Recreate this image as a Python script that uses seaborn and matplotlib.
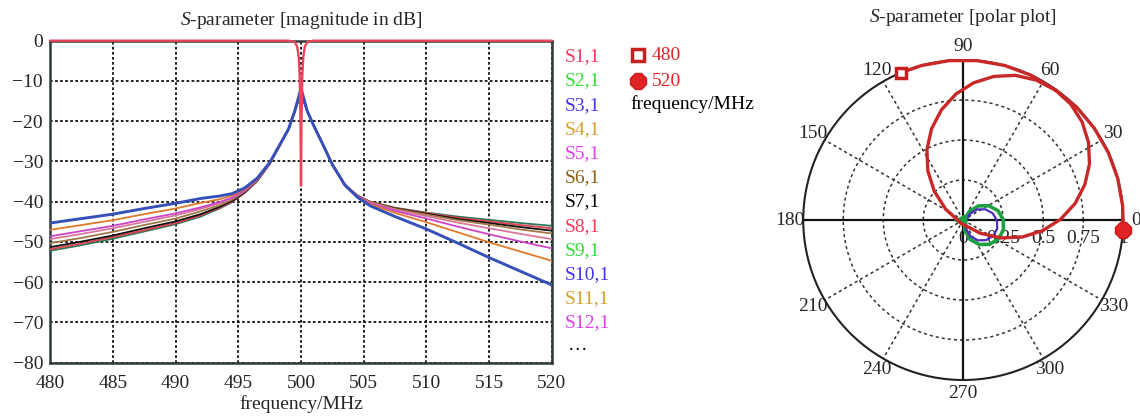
import numpy as np
import pandas as pd
import matplotlib
matplotlib.use("Agg")
import matplotlib.pyplot as plt
from matplotlib.lines import Line2D
import seaborn as sns

# ---- magnitude data (dB) ----
freq = [480, 482.5, 485, 487.5, 490, 492, 493.5, 494.5, 495.5, 496.5, 497.5, 498.3,
        499, 499.5, 500, 500.5, 501,
        501.7, 502.5, 503.5, 504.5, 505.5, 507.5, 510, 512.5, 515, 517.5, 520]

s_green = [-52.2, -50.8, -49.2, -47.4, -45.6, -43.7, -41.7, -40.1, -37.8, -34.9, -30.6, -26.1,
           -22.0, -17.5, -13.0, -17.5, -21.0,
           -25.5, -30.8, -35.8, -38.5, -40.0, -41.5, -42.7, -43.7, -44.5, -45.3, -46.0]
s_red = [-51.8, -50.4, -48.8, -47.1, -45.3, -43.4, -41.5, -40.0, -37.8, -34.9, -30.6, -26.1,
         -22.0, -17.5, -12.9, -17.5, -21.0,
         -25.5, -30.8, -35.8, -38.5, -40.0, -41.6, -42.8, -44.0, -44.9, -45.8, -46.6]
s_black = [-51.3, -49.9, -48.4, -46.6, -44.9, -43.1, -41.3, -39.8, -37.7, -34.8, -30.6, -26.0,
           -22.0, -17.5, -13.2, -17.5, -21.0,
           -25.5, -30.8, -35.8, -38.5, -40.1, -41.7, -43.0, -44.3, -45.3, -46.3, -47.2]
s_brown = [-50.3, -49.0, -47.5, -45.8, -44.2, -42.4, -40.9, -39.5, -37.5, -34.7, -30.6, -26.0,
           -22.0, -17.5, -12.8, -17.5, -21.0,
           -25.5, -30.8, -35.8, -38.6, -40.1, -41.8, -43.2, -44.6, -45.7, -46.9, -47.9]
s_pink = [-49.3, -48.0, -46.6, -45.0, -43.4, -41.8, -40.4, -39.2, -37.3, -34.6, -30.5, -26.0,
          -22.0, -17.5, -12.6, -17.5, -21.0,
          -25.5, -30.8, -35.8, -38.6, -40.2, -42.0, -43.6, -45.2, -46.6, -48.0, -49.3]
s_magenta = [-48.6, -47.3, -46.0, -44.4, -42.9, -41.4, -40.1, -39.0, -37.2, -34.5, -30.5, -26.0,
             -22.0, -17.5, -12.5, -17.5, -21.0,
             -25.5, -30.8, -35.8, -38.7, -40.4, -42.3, -44.2, -46.2, -48.1, -49.9, -51.6]
s_orange = [-47.0, -45.8, -44.6, -43.1, -41.7, -40.3, -39.4, -38.5, -36.9, -34.4, -30.4, -26.0,
            -22.0, -17.5, -12.2, -17.5, -21.0,
            -25.5, -30.8, -35.9, -38.8, -40.6, -42.8, -45.1, -47.6, -50.1, -52.4, -54.7]
s_blue = [-45.3, -44.2, -43.1, -41.7, -40.4, -39.2, -38.6, -38.0, -36.6, -34.2, -30.3, -25.9,
          -22.0, -17.5, -11.8, -17.5, -21.0,
          -25.5, -30.8, -35.9, -38.9, -41.0, -43.7, -46.8, -50.3, -53.9, -57.3, -60.7]

s11_freq = [480, 490, 499.0, 499.5, 499.7, 499.82, 499.9, 499.96, 500,
            500.04, 500.1, 500.18, 500.3, 500.5, 501, 510, 520]
s11_db = [0, 0, 0, -0.3, -1.5, -4.0, -9.0, -20.0, -36.0,
          -20.0, -9.0, -4.0, -1.5, -0.3, 0, 0, 0]

legend_names = ["S1,1", "S2,1", "S3,1", "S4,1", "S5,1", "S6,1",
                "S7,1", "S8,1", "S9,1", "S10,1", "S11,1", "S12,1"]
legend_colors = ["#f03c5a", "#33dd33", "#4433ee", "#d4a030", "#e040f0", "#8b6014",
                 "#000000", "#f03c5a", "#33dd33", "#4433ee", "#d4a030", "#e040f0"]

# ---- polar data (angle in degrees, magnitude) ----
s11_theta = [112.9, 105, 95, 85, 75, 65, 54.6,
             47.1, 39.5, 31.8, 24.0, 16.3, 8.4, 0.5, -7.6, -16.0, -25.3, -37.8, -118.6,
             148.3, 135.2, 125.8, 117.3, 109.2, 101.2, 93.4, 85.7, 77.9, 70.2, 62.5, 54.6,
             45, 35, 25, 15, 5, -3.6]
s11_mag = [1.0, 1.0, 1.0, 1.0, 1.0, 0.999, 0.996,
           0.988, 0.963, 0.921, 0.864, 0.792, 0.707, 0.609, 0.501, 0.385, 0.262, 0.135, 0.025,
           0.129, 0.255, 0.378, 0.495, 0.603, 0.702, 0.788, 0.860, 0.918, 0.961, 0.986, 0.996,
           1.0, 1.0, 1.0, 1.0, 1.0, 1.0]

s21_theta = [-12.5, 54.0, 42.7, 29.2, 15.0, 0.6, -13.9, -28.4, -42.7, -56.8, -70.5, -81.5, -12.5]
s21_mag = [0.009, 0.068, 0.130, 0.183, 0.225, 0.250, 0.259, 0.250, 0.224, 0.183, 0.129, 0.067, 0.009]

s31_theta = [-18.4, 42.6, 37.1, 25.7, 12.8, -0.7, -14.3, -28.0, -41.5, -54.4, -65.9, -71.8, -18.4]
s31_mag = [0.019, 0.058, 0.110, 0.154, 0.189, 0.211, 0.219, 0.212, 0.190, 0.156, 0.112, 0.061, 0.019]

theta_ticks = [0, 30, 60, 90, 120, 150, 180, 210, 240, 270, 300, 330]
r_ticks = [0, 0.25, 0.5, 0.75, 1]
r_labels = ["0", "0.25", "0.5", "0.75", "1"]

# ---- style ----
sns.set_style("white")
plt.rcParams["font.family"] = ["Liberation Serif", "DejaVu Serif"]
plt.rcParams["mathtext.fontset"] = "custom"
plt.rcParams["mathtext.rm"] = "Liberation Serif"
plt.rcParams["mathtext.it"] = "Liberation Serif:italic"
FS = 14
dark = "#2f3b3a"

fig = plt.figure(figsize=(11.4, 4.17), dpi=100)

# ================= left: magnitude plot =================
ax = fig.add_axes([0.04386, 0.1302, 0.44035, 0.7722])

curves = {
    "green": (s_green, "#2a7a5a"),
    "red": (s_red, "#e04050"),
    "black": (s_black, "#111111"),
    "brown": (s_brown, "#a07848"),
    "pink": (s_pink, "#d87898"),
    "magenta": (s_magenta, "#cc44c8"),
    "orange": (s_orange, "#e07a2a"),
}
rows = []
for name, (vals, _) in curves.items():
    for f, v in zip(freq, vals):
        rows.append({"freq": f, "dB": v, "series": name})
df = pd.DataFrame(rows)
palette = {k: c for k, (_, c) in curves.items()}
sns.lineplot(data=df, x="freq", y="dB", hue="series", palette=palette, sort=False,
             estimator=None, legend=False, linewidth=1.3, ax=ax, zorder=3)

df_blue = pd.DataFrame({"freq": freq, "dB": s_blue})
sns.lineplot(data=df_blue, x="freq", y="dB", color="#3550b8", linewidth=2.1,
             sort=False, estimator=None, ax=ax, zorder=4)

df_s11 = pd.DataFrame({"freq": s11_freq, "dB": s11_db})
sns.lineplot(data=df_s11, x="freq", y="dB", color="#e8445a", linewidth=1.7,
             sort=False, estimator=None, ax=ax, zorder=6, clip_on=False)

ax.set_xlim(480, 520)
ax.set_ylim(-80, 0)
ax.set_xticks(range(480, 521, 5))
ax.set_yticks(range(-80, 1, 10))
ax.grid(True, color="#111111", linestyle=(0, (1.5, 1.3)), linewidth=1.3)
for s in ax.spines.values():
    s.set_color(dark)
    s.set_linewidth(1.8)
ax.tick_params(direction="out", length=3, width=1.2, color=dark, labelsize=FS, pad=2)
ax.tick_params(axis="x", pad=6)
ax.set_xlabel("frequency/MHz", fontsize=FS, labelpad=2)
ax.set_ylabel("")
ax.set_title(r"$S$-parameter [magnitude in dB]", fontsize=FS, pad=11)

# legend texts
for i, (name, col) in enumerate(zip(legend_names, legend_colors)):
    fig.text(565 / 1140, 1 - (56.7 + 24.2 * i) / 417, name, color=col,
             fontsize=FS, va="center", ha="left")
fig.text(568 / 1140, 1 - 345 / 417, "…", color="black", fontsize=FS, va="center")

# frequency marker legend
fig.add_artist(Line2D([638 / 1140], [1 - 55 / 417], marker="s", ms=8, mfc="white",
                      mec="#c82020", mew=2.5, linestyle="none"))
fig.add_artist(Line2D([638 / 1140], [1 - 81 / 417], marker="8", ms=13, mfc="#e02424",
                      mec="#c81c1c", linestyle="none"))
fig.text(652 / 1140, 1 - 55 / 417, "480", color="#e02424", fontsize=FS, va="center")
fig.text(652 / 1140, 1 - 81 / 417, "520", color="#e02424", fontsize=FS, va="center")
fig.text(630 / 1140, 1 - 104 / 417, "frequency/MHz", color="black", fontsize=FS, va="center")

# ================= right: polar plot =================
pax = fig.add_axes([0.7046, 0.0887, 0.2807, 0.7674], projection="polar")
pax.set_ylim(0, 1)
pax.set_thetagrids(theta_ticks, labels=[str(t) for t in theta_ticks], fontsize=FS)
pax.set_rgrids([0.25, 0.5, 0.75], labels=["", "", ""])
pax.grid(True, color="#333333", linestyle=(0, (2, 2)), linewidth=1.1)
pax.spines["polar"].set_color("#222222")
pax.spines["polar"].set_linewidth(1.5)
pax.tick_params(axis="x", pad=-1)
for t in [0, 90, 180, 270]:
    pax.axvline(np.deg2rad(t), color="#111111", linewidth=1.6, zorder=2)

for r, lab in zip(r_ticks, r_labels):
    pax.annotate(lab, xy=(0, r), xytext=(0, -13), textcoords="offset points",
                 ha="center", va="center", fontsize=FS, zorder=1)

pax.plot(np.deg2rad(s31_theta), s31_mag, color="#4a2fc0", linewidth=1.6, zorder=4)
pax.plot(np.deg2rad(s21_theta), s21_mag, color="#1fa040", linewidth=2.6, zorder=3)
pax.plot(np.deg2rad(180), 0.02, marker="<", ms=9, color="#1fa040", zorder=5)
pax.plot(np.deg2rad(s11_theta), s11_mag, color="#c82828", linewidth=2.4, zorder=6,
         clip_on=False)
pax.plot(np.deg2rad(s11_theta[0]), s11_mag[0], marker="s", ms=7, mfc="white",
         mec="#c82020", mew=2.5, clip_on=False, zorder=7)
pax.plot(np.deg2rad(s11_theta[-1]), s11_mag[-1], marker="8", ms=13, mfc="#e02424",
         mec="#c81c1c", clip_on=False, zorder=7)
pax.set_title(r"$S$-parameter [polar plot]", fontsize=FS, pad=12)

fig.savefig("out.png", dpi=100)
